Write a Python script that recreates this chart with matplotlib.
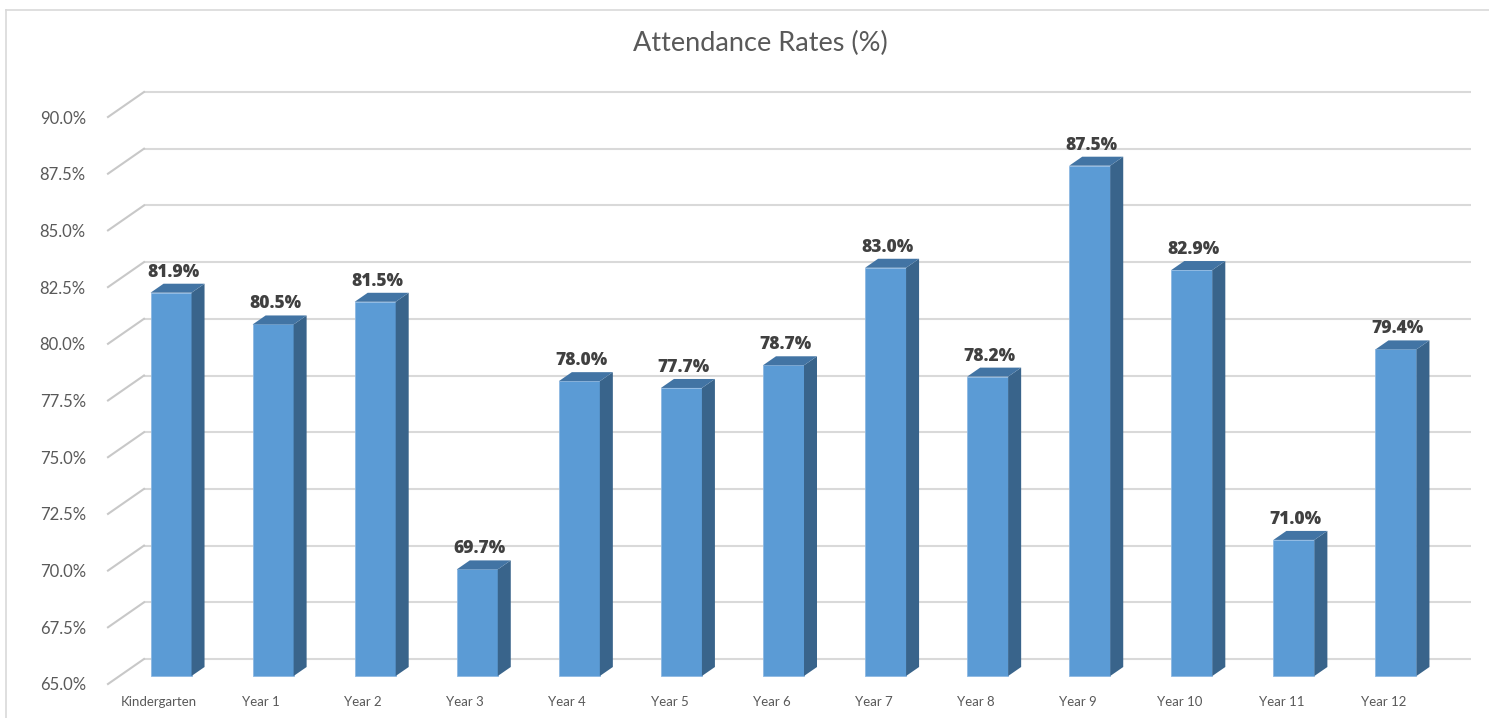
import matplotlib
matplotlib.use('Agg')
import matplotlib.pyplot as plt
from matplotlib.patches import Polygon
import numpy as np

categories = ['Kindergarten', 'Year 1', 'Year 2', 'Year 3', 'Year 4', 'Year 5', 'Year 6',
              'Year 7', 'Year 8', 'Year 9', 'Year 10', 'Year 11', 'Year 12']
rates = [81.9, 80.5, 81.5, 69.7, 78.0, 77.7, 78.7, 83.0, 78.2, 87.5, 82.9, 71.0, 79.4]
yticks = [65.0, 67.5, 70.0, 72.5, 75.0, 77.5, 80.0, 82.5, 85.0, 87.5, 90.0]

plt.rcParams['font.family'] = ['Lato', 'DejaVu Sans']

W, H = 1489, 718
fig = plt.figure(figsize=(W / 100, H / 100), dpi=100)
# front plane of the 3d box, in pixels
left, right, top, bottom = 108, 1435, 117, 684
ax = fig.add_axes([left / W, (H - bottom) / H, (right - left) / W, (bottom - top) / H])
ax.set_xlim(-0.5, len(categories) - 0.5)
ax.set_ylim(65, 90)

# pixel -> data conversion
px_x = (len(categories)) / (right - left)
px_y = 25.0 / (bottom - top)

grid_c = '#D9D9D9'
back_dx, back_dy = 36 * px_x, 25 * px_y
x0, x1 = -0.5, len(categories) - 0.5
for t in yticks:
    ax.plot([x0 + back_dx, x1 + back_dx], [t + back_dy, t + back_dy], color=grid_c, lw=1.5,
            clip_on=False, zorder=1, solid_capstyle='butt')
    ax.plot([x0, x0 + back_dx], [t, t + back_dy], color='#C8C8C8', lw=1.5,
            clip_on=False, zorder=1)

# bars
front_c, side_c, top_c = '#5B9BD5', '#39648B', '#4274A4'
fdx, fdy = 12 * px_x, 8 * px_y      # front face offset from front plane
ddx, ddy = 13 * px_x, 9 * px_y      # bar depth
bw = 41 * px_x
xs = np.arange(len(categories))
ax.bar(xs + fdx, [r - 65 for r in rates], width=bw, bottom=65 + fdy, color=front_c,
       edgecolor='#8DB8E3', linewidth=0.6, clip_on=False, zorder=3)
for x, r in zip(xs, rates):
    xl = x + fdx - bw / 2
    xr = x + fdx + bw / 2
    yb = 65 + fdy
    yt = r + fdy
    side = Polygon([(xr, yb), (xr + ddx, yb + ddy), (xr + ddx, yt + ddy), (xr, yt)],
                   closed=True, facecolor=side_c, edgecolor='none', clip_on=False, zorder=3)
    topf = Polygon([(xl, yt), (xr, yt), (xr + ddx, yt + ddy), (xl + ddx, yt + ddy)],
                   closed=True, facecolor=top_c, edgecolor='none', clip_on=False, zorder=3)
    ax.add_patch(side)
    ax.add_patch(topf)
    ax.text(x + fdx + 2 * px_x, yt + ddy + 3 * px_y, f'{r:.1f}%', ha='center', va='bottom',
            fontsize=12.5, fontweight=800, color='#404040', zorder=4,
            family=['Open Sans', 'DejaVu Sans'])

ax.set_xticks(xs)
ax.set_xticklabels(categories, fontsize=9.5, color='#595959')
ax.set_yticks(yticks)
ax.set_yticklabels([f'{t:.1f}%' for t in yticks], fontsize=12, color='#595959')
ax.tick_params(axis='both', length=0)
ax.tick_params(axis='y', pad=16)
ax.tick_params(axis='x', pad=9)
for s in ax.spines.values():
    s.set_visible(False)
ax.patch.set_visible(False)

fig.text(760 / W, 1 - 43 / H, 'Attendance Rates (%)', ha='center', va='center',
         fontsize=19.5, color='#595959')

# chart border
fig.add_artist(plt.Line2D([6 / W, 1.0], [1 - 10 / H, 1 - 10 / H], color='#D9D9D9', lw=1.2))
fig.add_artist(plt.Line2D([6 / W, 6 / W], [0, 1 - 10 / H], color='#D9D9D9', lw=1.2))

fig.savefig('out.png', dpi=100, facecolor='white')
